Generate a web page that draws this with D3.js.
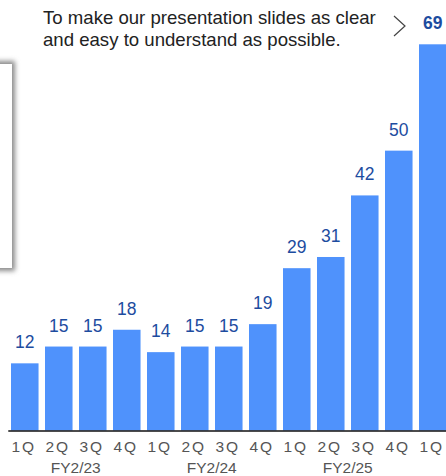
<!DOCTYPE html>
<html>
<head>
<meta charset="utf-8">
<script src="https://cdn.jsdelivr.net/npm/d3@7/dist/d3.min.js"></script>
<style>
  html, body { margin: 0; padding: 0; background: #fff; }
  svg { display: block; font-family: "Liberation Sans", Arial, sans-serif; }
</style>
</head>
<body>
<script>
const quarters = ["1Q","2Q","3Q","4Q","1Q","2Q","3Q","4Q","1Q","2Q","3Q","4Q","1Q"];
const values = [12, 15, 15, 18, 14, 15, 15, 19, 29, 31, 42, 50, 69];
const fiscalYears = ["FY2/23", "FY2/24", "FY2/25"];
const fiscalStart = [0, 4, 8];
const fiscalEnd = [3, 7, 11];
const captionLines = ["To make our presentation slides as clear", "and easy to understand as possible."];

const W = 446, H = 476;
const svg = d3.select("body").append("svg").attr("width", W).attr("height", H);

// shadowed panel at left
const defs = svg.append("defs");
defs.append("filter").attr("id", "blur").attr("x", "-50%").attr("y", "-50%").attr("width", "200%").attr("height", "200%")
  .append("feGaussianBlur").attr("stdDeviation", 2.5);
svg.append("rect").attr("x", -30).attr("y", 61).attr("width", 45).attr("height", 210)
  .attr("fill", "#8a8a8a").attr("filter", "url(#blur)");
svg.append("rect").attr("x", -30).attr("y", 64).attr("width", 42).attr("height", 204)
  .attr("fill", "#fff");

const idx = d3.range(values.length);
const x = d3.scaleBand().domain(idx).range([7.77, 449.77]).paddingInner(0.19).paddingOuter(0.095);
const y = d3.scaleLinear().domain([0, 69]).range([430.5, 44.3]);

// bars
svg.append("g").selectAll("rect").data(values).join("rect")
  .attr("x", (d, i) => x(i))
  .attr("y", d => y(d))
  .attr("width", x.bandwidth())
  .attr("height", d => y(0) - y(d))
  .attr("fill", "#4f92fc");

// value labels
svg.append("g").selectAll("text").data(values).join("text")
  .attr("x", (d, i) => x(i) + x.bandwidth() / 2)
  .attr("y", d => y(d) - 15)
  .attr("text-anchor", "middle")
  .attr("font-size", 17.5)
  .attr("font-weight", (d, i) => i === values.length - 1 ? "bold" : "normal")
  .attr("fill", "#1d4c9f")
  .text(d => d);

// x axis
const axis = d3.axisBottom(x).tickSize(0).tickFormat(i => quarters[i]);
const gx = svg.append("g").attr("transform", `translate(0,${y(0)})`).call(axis);
gx.select(".domain").attr("stroke", "#111").attr("stroke-width", 1.6);
gx.selectAll("text")
  .attr("y", 21.5).attr("dy", 0).attr("dx", -1)
  .attr("font-size", 15.5)
  .attr("letter-spacing", "2px")
  .attr("fill", "#555")
  .style("font-family", "'Liberation Sans', Arial, sans-serif");

// fiscal year labels
svg.append("g").selectAll("text").data(fiscalYears).join("text")
  .attr("x", (d, i) => (x(fiscalStart[i]) + x(fiscalEnd[i]) + x.bandwidth()) / 2)
  .attr("y", 473)
  .attr("text-anchor", "middle")
  .attr("font-size", 15.5)
  .attr("fill", "#555")
  .text(d => d);

// caption
svg.append("g").selectAll("text").data(captionLines).join("text")
  .attr("x", 43)
  .attr("y", (d, i) => 24 + i * 22)
  .attr("font-size", 18.6)
  .attr("fill", "#222")
  .text(d => d);

// chevron
svg.append("path")
  .attr("d", d3.line()([[394, 16], [405, 26], [394, 36]]))
  .attr("fill", "none")
  .attr("stroke", "#444")
  .attr("stroke-width", 1.2);
</script>
</body>
</html>
